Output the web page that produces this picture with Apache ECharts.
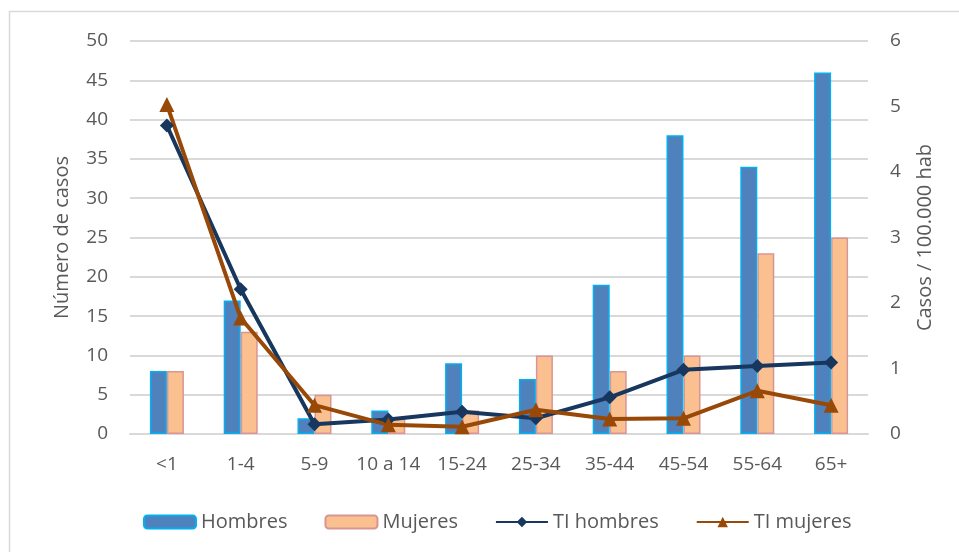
<!DOCTYPE html>
<html><head><meta charset="utf-8">
<script src="https://cdn.jsdelivr.net/npm/echarts@6/dist/echarts.min.js"></script>
<style>html,body{margin:0;padding:0;background:#fff}#c{width:959px;height:552px}</style>
</head><body><div id="c"></div>
<script>
const categories = ['<1','1-4','5-9','10 a 14','15-24','25-34','35-44','45-54','55-64','65+'];
const hombres = [8,17,2,3,9,7,19,38,34,46];
const mujeres = [8,13,5,2,3,10,8,10,23,25];
const tiHombres = [4.71,2.21,0.15,0.22,0.34,0.24,0.56,0.98,1.04,1.09];
const tiMujeres = [5.03,1.77,0.44,0.14,0.11,0.37,0.23,0.24,0.66,0.44];
const leftTicks = {min:0,max:50,interval:5};
const rightTicks = {min:0,max:6,interval:1};

const FONT = '"Open Sans", sans-serif';
const GREY = '#595959';
const chart = echarts.init(document.getElementById('c'), null, {renderer:'canvas'});
chart.setOption({
  animation:false,
  graphic:[{type:'rect',shape:{x:9.5,y:11.5,width:960,height:560},style:{fill:'none',stroke:'#d9d9d9',lineWidth:1.5}}],
  grid:{left:130,right:91,top:41,bottom:118},
  legend:{
    top:507,left:138,itemWidth:52,itemHeight:13,itemGap:37,
    textStyle:{fontFamily:FONT,fontSize:20,color:GREY},
    data:['Hombres','Mujeres','TI hombres','TI mujeres']
  },
  xAxis:{type:'category',data:categories,
    axisLine:{lineStyle:{color:'#d9d9d9',width:2}},axisTick:{show:false},
    axisLabel:{fontFamily:FONT,fontSize:19,color:GREY,margin:21,interval:0}},
  yAxis:[
    {type:'value',min:leftTicks.min,max:leftTicks.max,interval:leftTicks.interval,
     name:'Número de casos',nameLocation:'middle',nameGap:58,
     nameTextStyle:{fontFamily:FONT,fontSize:20,color:GREY},
     axisLine:{show:false},axisTick:{show:false},
     axisLabel:{fontFamily:FONT,fontSize:19,color:GREY,margin:22},
     splitLine:{lineStyle:{color:'#d9d9d9',width:2}}},
    {type:'value',min:rightTicks.min,max:rightTicks.max,interval:rightTicks.interval,
     name:'Casos / 100.000 hab',nameLocation:'middle',nameGap:47,
     nameTextStyle:{fontFamily:FONT,fontSize:20,color:GREY},
     axisLine:{show:false},axisTick:{show:false},
     axisLabel:{fontFamily:FONT,fontSize:19,color:GREY,margin:22},
     splitLine:{show:false}}
  ],
  series:[
    {name:'Hombres',type:'bar',data:hombres,barWidth:17,barGap:'0%',
     itemStyle:{color:'#4f81bd',borderColor:'#00b0f0',borderWidth:1.5}},
    {name:'Mujeres',type:'bar',data:mujeres,barWidth:17,
     itemStyle:{color:'#fac090',borderColor:'#d99594',borderWidth:1.5}},
    {name:'TI hombres',type:'line',yAxisIndex:1,data:tiHombres,symbol:'diamond',symbolSize:14,
     lineStyle:{color:'#17375e',width:4},itemStyle:{color:'#17375e'}},
    {name:'TI mujeres',type:'line',yAxisIndex:1,data:tiMujeres,symbol:'triangle',symbolSize:15,
     lineStyle:{color:'#984807',width:4},itemStyle:{color:'#984807'}}
  ]
});
</script></body></html>
